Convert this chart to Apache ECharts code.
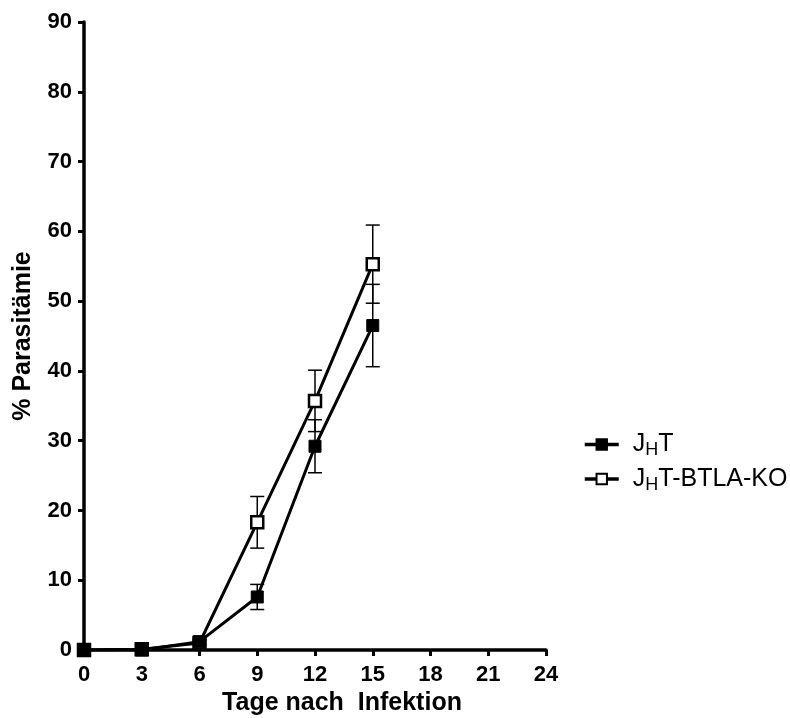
<!DOCTYPE html>
<html>
<head>
<meta charset="utf-8">
<script src="https://cdn.jsdelivr.net/npm/echarts@6/dist/echarts.min.js"></script>
<style>
  html, body { margin: 0; padding: 0; background: #fff; }
  #main { width: 790px; height: 718px; }
</style>
</head>
<body>
<div id="main"></div>
<script>
// Daten
var tage = [0, 3, 6, 9, 12, 15];
var jht = [0, 0, 1.2, 7.6, 29.2, 46.5];
var jhtFehler = [0, 0, 0.3, 1.8, 3.8, 5.9];
var btla = [0, 0.1, 1.0, 18.3, 35.7, 55.3];
var btlaFehler = [0, 0, 0.3, 3.7, 4.4, 5.6];
var xTicks = [0, 3, 6, 9, 12, 15, 18, 21, 24];
var yTicks = [0, 10, 20, 30, 40, 50, 60, 70, 80, 90];

var schrift = '"Liberation Sans", Arial, sans-serif';

var dom = document.getElementById('main');
var myChart = echarts.init(dom, null, { renderer: 'canvas' });

function punkte(werte) {
  return tage.map(function (t, i) { return [t, werte[i]]; });
}
function fehlerDaten(werte, fehler) {
  return tage.map(function (t, i) { return [t, werte[i] - fehler[i], werte[i] + fehler[i]]; });
}

function fehlerBalken(params, api) {
  var x = api.value(0);
  var lo = api.coord([x, api.value(1)]);
  var hi = api.coord([x, api.value(2)]);
  var w = 7;
  var stil = { stroke: '#000', lineWidth: 1.5 };
  if (Math.abs(hi[1] - lo[1]) < 1) return;
  return {
    type: 'group',
    children: [
      { type: 'line', shape: { x1: lo[0], y1: lo[1], x2: hi[0], y2: hi[1] }, style: stil },
      { type: 'line', shape: { x1: lo[0] - w, y1: lo[1], x2: lo[0] + w, y2: lo[1] }, style: stil },
      { type: 'line', shape: { x1: hi[0] - w, y1: hi[1], x2: hi[0] + w, y2: hi[1] }, style: stil }
    ]
  };
}

var option = {
  animation: false,
  grid: { left: 84, right: 244, top: 22, bottom: 68, containLabel: false, outerBoundsMode: 'none' },
  xAxis: {
    type: 'value',
    min: 0, max: 24, interval: 3,
    name: 'Tage nach  Infektion',
    nameLocation: 'middle',
    nameGap: 38,
    nameTextStyle: { fontFamily: schrift, fontWeight: 'bold', fontSize: 25, color: '#000', padding: [0, 0, 0, 54] },
    axisLine: { onZero: false, lineStyle: { color: '#000', width: 3.5 } },
    axisTick: { show: true, length: 6, lineStyle: { color: '#000', width: 3 } },
    axisLabel: { fontFamily: schrift, fontWeight: 'bold', fontSize: 22, color: '#000', margin: 14 },
    splitLine: { show: false }
  },
  yAxis: {
    type: 'value',
    min: 0, max: 90, interval: 10,
    name: '% Parasitämie',
    nameLocation: 'middle',
    nameGap: 48,
    nameTextStyle: { fontFamily: schrift, fontWeight: 'bold', fontSize: 25, color: '#000' },
    axisLine: { show: true, lineStyle: { color: '#000', width: 3.5 } },
    axisTick: { show: true, length: 6, lineStyle: { color: '#000', width: 3 } },
    axisLabel: { fontFamily: schrift, fontWeight: 'bold', fontSize: 22, color: '#000', margin: 12 },
    splitLine: { show: false }
  },
  legend: {
    orient: 'vertical',
    left: 578,
    top: 427,
    itemGap: 7,
    itemWidth: 34,
    itemHeight: 13,
    lineStyle: { width: 3.5, color: '#000' },
    data: ['JHT', 'JHT-BTLA-KO'],
    formatter: function (name) {
      return name === 'JHT' ? '{n|J}{s|H}{n|T}' : '{n|J}{s|H}{n|T-BTLA-KO}';
    },
    textStyle: {
      fontFamily: schrift,
      color: '#000',
      padding: [0, 0, 0, 9],
      rich: {
        n: { fontFamily: schrift, fontSize: 25, color: '#000', lineHeight: 30 },
        s: { fontFamily: schrift, fontSize: 18, color: '#000', padding: [12, 0, 0, 0] }
      }
    }
  },
  series: [
    {
      name: 'JHT-BTLA-KO',
      type: 'line',
      data: punkte(btla),
      symbol: 'rect',
      symbolSize: 12,
      lineStyle: { color: '#000', width: 3 },
      itemStyle: { color: '#fff', borderColor: '#000', borderWidth: 2.5 },
      z: 3
    },
    {
      name: 'JHT',
      type: 'line',
      data: punkte(jht),
      symbol: 'rect',
      symbolSize: 12,
      lineStyle: { color: '#000', width: 3 },
      itemStyle: { color: '#000', borderColor: '#000', borderWidth: 1 },
      z: 4
    },
    {
      type: 'custom',
      name: 'fehlerJHT',
      renderItem: fehlerBalken,
      data: fehlerDaten(jht, jhtFehler),
      encode: { x: 0, y: [1, 2] },
      z: 2
    },
    {
      type: 'custom',
      name: 'fehlerBTLA',
      renderItem: fehlerBalken,
      data: fehlerDaten(btla, btlaFehler),
      encode: { x: 0, y: [1, 2] },
      z: 2
    }
  ]
};

myChart.setOption(option);
</script>
</body>
</html>
